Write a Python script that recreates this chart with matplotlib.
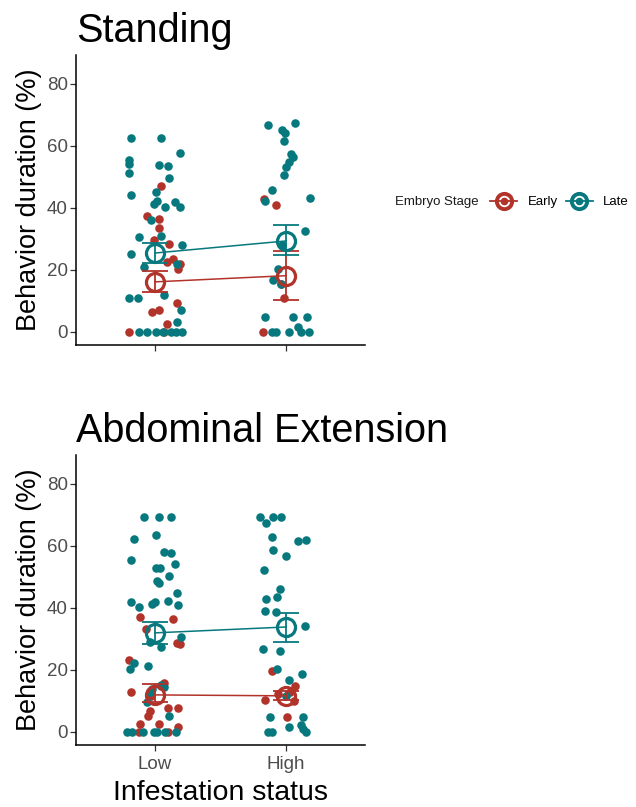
import numpy as np
import matplotlib
matplotlib.use("Agg")
import matplotlib.pyplot as plt
from matplotlib.lines import Line2D
from matplotlib.legend_handler import HandlerTuple

plt.rcParams['font.family'] = ['Liberation Sans', 'DejaVu Sans']

RED = "#B2332A"
TEAL = "#07797E"

groups = ["Low", "High"]

# ---- Standing: raw (jittered) points ----
st_early_low_y = [46.9, 37.5, 36.4, 33.5, 29.5, 28.2, 23.6, 22.5, 22.0, 20.4, 9.4, 6.3, 7.1, 2.6, 0, 0]
st_early_low_j = [0.05, -0.06, 0.03, 0.03, -0.01, 0.11, 0.14, 0.09, 0.19, 0.18, 0.17, -0.02, 0.03, 0.09, -0.20, 0.07]
st_early_high_y = [40.8, 42.8, 10.8, 0, 15.4]
st_early_high_j = [-0.08, -0.17, -0.02, -0.18, -0.04]
st_late_low_y = [62.4, 62.4, 57.6, 55.3, 54.0, 51.1, 53.8, 53.5, 49.5, 44.2, 45.0, 42.3, 41.2, 40.4,
                 42.0, 40.4, 36.1, 30.9, 30.5, 27.9, 25.0, 20.9, 21.8, 11.0, 11.0, 11.9, 7.1, 3.3,
                 0, 0, 0, 0, 0, 0, 0]
st_late_low_j = [-0.18, 0.05, 0.19, -0.20, -0.20, -0.20, 0.03, 0.10, 0.11, -0.18, 0.01, 0.02, -0.01, 0.08,
                 0.15, 0.19, -0.03, 0.05, -0.12, 0.21, -0.18, -0.08, 0.17, -0.20, -0.13, 0.07, 0.20, 0.17,
                 -0.12, -0.06, 0.01, 0.06, 0.12, 0.16, 0.21]
st_late_high_y = [66.7, 67.4, 65.1, 64.2, 61.5, 57.3, 56.3, 54.6, 53.2, 50.5, 45.7, 42.3, 43.0, 32.4,
                  27.9, 20.4, 16.7, 15.4, 4.9, 4.9, 4.9, 0, 0, 0, 1.5, 0, 0]
st_late_high_j = [-0.14, 0.07, -0.03, -0.01, -0.02, 0.04, 0.05, 0.02, 0.00, -0.02, -0.11, -0.16, 0.18, 0.14,
                  -0.03, -0.06, -0.10, -0.04, -0.16, 0.05, 0.16, -0.11, -0.08, 0.02, 0.09, 0.11, 0.17]

# ---- Abdominal Extension ----
ab_early_low_y = [37.0, 36.4, 33.2, 28.7, 28.2, 23.1, 15.6, 14.8, 12.7, 11.5, 6.8, 5.2, 7.6, 7.6,
                  2.6, 2.6, 0, 0, 1.5]
ab_early_low_j = [-0.11, 0.14, -0.07, 0.17, 0.19, -0.20, 0.07, 0.05, -0.18, -0.03, -0.04, -0.05, 0.10, 0.18,
                  -0.11, 0.03, -0.12, 0.10, 0.18]
ab_early_high_y = [19.6, 14.8, 12.2, 12.9, 10.0, 10.3, 4.7]
ab_early_high_j = [-0.11, 0.07, -0.06, 0.03, 0.06, -0.16, 0.01]
ab_late_low_y = [69.4, 69.4, 69.4, 63.4, 62.1, 58.0, 57.7, 55.4, 54.1, 52.9, 52.9, 50.2, 48.6, 47.9,
                 44.9, 41.8, 40.4, 41.3, 41.7, 42.3, 41.0, 30.6, 28.9, 27.4, 22.3, 20.2, 21.2, 13.8,
                 14.5, 15.0, 12.7, 9.7, 5.0, 0, 0, 0, 0, 0, 0, 0]
ab_late_low_j = [-0.08, 0.03, 0.12, 0.01, -0.16, 0.07, 0.12, -0.18, 0.15, 0.01, 0.04, 0.11, 0.02, 0.03,
                 0.17, -0.18, -0.12, -0.02, 0.00, 0.10, 0.18, 0.20, -0.04, 0.05, -0.16, -0.19, -0.05, -0.02,
                 0.07, 0.05, -0.04, -0.06, 0.11, -0.21, -0.17, -0.09, -0.01, 0.02, 0.08, 0.16]
ab_late_high_y = [69.4, 69.4, 69.4, 67.3, 62.8, 61.4, 62.0, 58.6, 56.6, 52.2, 46.0, 42.8, 43.6, 39.0,
                  38.5, 34.2, 26.8, 26.2, 20.4, 18.6, 16.7, 11.6, 4.9, 4.9, 1.5, 2.2, 1.0, 0, 0, 0]
ab_late_high_j = [-0.20, -0.10, -0.04, -0.15, -0.11, 0.09, 0.15, -0.10, 0.00, -0.17, -0.05, -0.15, -0.07, -0.16,
                  -0.08, 0.14, -0.18, -0.05, -0.07, 0.12, 0.02, 0.00, -0.12, 0.13, 0.02, 0.11, 0.13, 0.15, -0.14, -0.11]

# ---- means and standard error bounds (Low, High) ----
st_early_mean = [16.1, 18.1]
st_early_lo = [12.7, 10.3]
st_early_hi = [19.7, 26.1]
st_late_mean = [25.4, 29.3]
st_late_lo = [22.2, 24.7]
st_late_hi = [28.6, 34.3]

ab_early_mean = [11.9, 11.6]
ab_early_lo = [9.5, 10.2]
ab_early_hi = [15.4, 13.2]
ab_late_mean = [31.9, 33.8]
ab_late_lo = [28.4, 28.9]
ab_late_hi = [35.3, 38.3]


def draw_panel(ax, title, points, summaries, show_x):
    for (y_low, j_low, y_high, j_high, col) in points:
        ax.scatter(np.array(j_low) + 1, y_low, s=38, color=col, linewidths=0, zorder=2)
        ax.scatter(np.array(j_high) + 2, y_high, s=38, color=col, linewidths=0, zorder=2)
    xs = np.array([1, 2])
    for (mean, lo, hi, col) in summaries:
        mean = np.array(mean)
        ax.plot(xs, mean, color=col, lw=1.1, zorder=3)
        ax.errorbar(xs, mean, yerr=[mean - np.array(lo), np.array(hi) - mean], fmt='none',
                    ecolor=col, elinewidth=1.3, capsize=9.5, capthick=1.3, zorder=4)
        ax.plot(xs, mean, 'o', mfc='none', mec=col, mew=2.3, ms=13, zorder=5)
    ax.set_xlim(0.4, 2.6)
    ax.set_ylim(-4.25, 89.25)
    ax.set_yticks([0, 20, 40, 60, 80])
    ax.set_xticks([1, 2])
    if show_x:
        ax.set_xticklabels(groups)
        ax.set_xlabel("Infestation status", fontsize=20.5, labelpad=5)
    else:
        ax.set_xticklabels(["", ""])
    ax.set_ylabel("Behavior duration (%)", fontsize=19.5, labelpad=3)
    ax.tick_params(axis='both', labelsize=13.5, labelcolor="#4D4D4D", color="#333333",
                   length=4, width=0.9, pad=2)
    ax.tick_params(axis='x', pad=4)
    for s in ["top", "right"]:
        ax.spines[s].set_visible(False)
    for s in ["left", "bottom"]:
        ax.spines[s].set_linewidth(1.1)
    ax.text(0, 1.045, title, transform=ax.transAxes, fontsize=28.5, ha='left', va='baseline')


fig = plt.figure(figsize=(6.36, 8.07), dpi=100)
ax1 = fig.add_axes([76 / 636, 1 - 345 / 807, 289 / 636, 290 / 807])
ax2 = fig.add_axes([76 / 636, 1 - 745 / 807, 289 / 636, 290 / 807])

draw_panel(ax1, "Standing",
           [(st_early_low_y, st_early_low_j, st_early_high_y, st_early_high_j, RED),
            (st_late_low_y, st_late_low_j, st_late_high_y, st_late_high_j, TEAL)],
           [(st_early_mean, st_early_lo, st_early_hi, RED),
            (st_late_mean, st_late_lo, st_late_hi, TEAL)],
           show_x=False)
draw_panel(ax2, "Abdominal Extension",
           [(ab_early_low_y, ab_early_low_j, ab_early_high_y, ab_early_high_j, RED),
            (ab_late_low_y, ab_late_low_j, ab_late_high_y, ab_late_high_j, TEAL)],
           [(ab_early_mean, ab_early_lo, ab_early_hi, RED),
            (ab_late_mean, ab_late_lo, ab_late_hi, TEAL)],
           show_x=True)

# legend
handles = []
for col in [RED, TEAL]:
    ring = Line2D([], [], color=col, lw=1.3, marker='o', mfc='none', mec=col, mew=2.8, ms=11)
    dot = Line2D([], [], ls='none', marker='o', color=col, ms=4.5)
    handles.append((ring, dot))
fig.text(395 / 636, 1 - 202 / 807, "Embryo Stage", fontsize=9.5, color="#1A1A1A", va='center', ha='left')
fig.legend(handles, ["Early", "Late"], ncol=2, frameon=False, fontsize=9.5,
           loc='center left', bbox_to_anchor=(490 / 636, 1 - 202 / 807),
           handler_map={tuple: HandlerTuple(ndivide=1, pad=0)},
           handlelength=2.05, handletextpad=0.8, columnspacing=0.6, borderaxespad=0, borderpad=0)

fig.savefig("out.png", dpi=100)
